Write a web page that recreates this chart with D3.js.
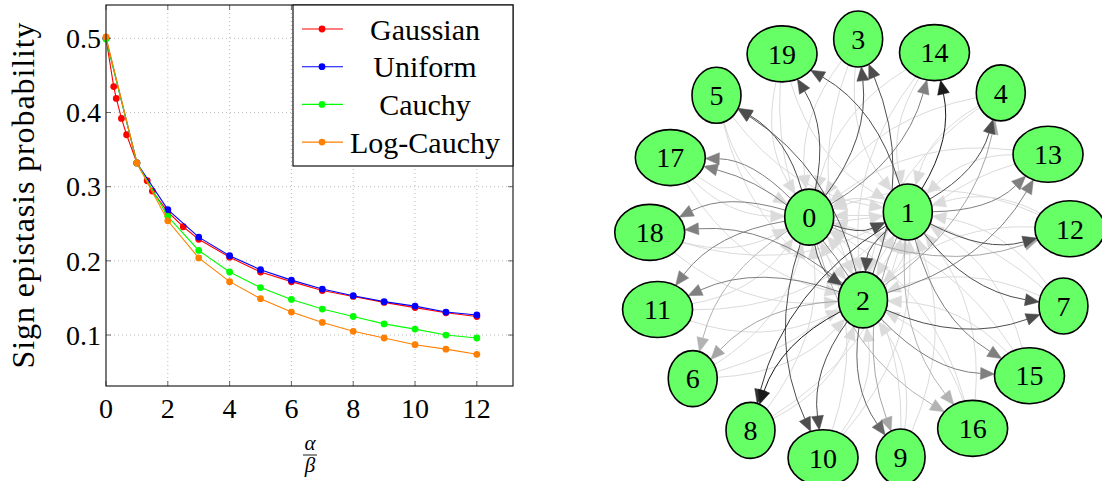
<!DOCTYPE html>
<html>
<head>
<meta charset="utf-8">
<script src="https://d3js.org/d3.v7.min.js"></script>
<style>
body { margin: 0; background: #fff; }
svg text { font-family: "Liberation Serif", serif; fill: #000; }
</style>
</head>
<body>
<div id="chart"></div>
<script>
// ---------- line chart data ----------
var gaussX = [0, 0.25, 0.333, 0.5, 0.667, 1, 1.333, 1.5, 2, 2.5, 3, 4, 5, 6, 7, 8, 9, 10, 11, 12];
var gaussY = [0.500, 0.435, 0.419, 0.392, 0.370, 0.332, 0.308, 0.294, 0.266, 0.246, 0.229, 0.205, 0.185, 0.172, 0.160, 0.152, 0.144, 0.137, 0.130, 0.125];
var stepX = [0, 1, 2, 3, 4, 5, 6, 7, 8, 9, 10, 11, 12];
var uniformY = [0.500, 0.332, 0.269, 0.232, 0.207, 0.188, 0.174, 0.162, 0.153, 0.145, 0.139, 0.131, 0.127];
var cauchyY = [0.499, 0.332, 0.260, 0.214, 0.185, 0.164, 0.148, 0.135, 0.125, 0.115, 0.108, 0.100, 0.096];
var logCauchyY = [0.502, 0.332, 0.254, 0.204, 0.172, 0.149, 0.131, 0.117, 0.105, 0.096, 0.087, 0.081, 0.074];
var seriesNames = ["Gaussian", "Uniform", "Cauchy", "Log-Cauchy"];
var xTicks = [0, 2, 4, 6, 8, 10, 12];
var yTicks = [0.1, 0.2, 0.3, 0.4, 0.5];

// ---------- graph data ----------
var hubNodes = [0, 1, 2];
var ringNodes = [3, 14, 4, 13, 12, 7, 15, 16, 9, 10, 8, 6, 11, 18, 17, 5, 19];
// edges leaving the hubs: [from, to, darkness 0..1]
var hubEdges = [
  [0, 1, 0.7], [1, 0, 0.15], [0, 2, 0.7], [2, 0, 0.15], [1, 2, 0.7], [2, 1, 0.15],
  [0, 19, 0.7], [1, 19, 0.7], [0, 3, 0.7], [2, 3, 0.7], [1, 14, 0.9], [0, 14, 0.5],
  [0, 5, 0.7], [2, 5, 0.65], [1, 4, 0.7], [2, 4, 0.35], [0, 17, 0.5], [2, 17, 0.5],
  [1, 13, 0.5], [2, 13, 0.5], [1, 12, 0.7], [0, 12, 0.35], [2, 18, 0.5], [0, 18, 0.5],
  [0, 11, 0.5], [2, 11, 0.5], [1, 7, 0.7], [2, 7, 0.7], [2, 6, 0.35], [0, 6, 0.3],
  [1, 15, 0.5], [2, 15, 0.5], [2, 8, 0.9], [1, 8, 0.8], [1, 16, 0.3], [0, 16, 0.3],
  [2, 10, 0.7], [0, 10, 0.7], [2, 9, 0.6], [1, 9, 0.35]
];
// every ring node also points back to each hub with a faint edge
var backShade = 0.14;

var svg = d3.select("#chart").append("svg")
  .attr("width", 1102).attr("height", 481);

// ================= line chart =================
var plot = {left: 106, right: 513, top: 5, bottom: 386};
var x = d3.scaleLinear().domain([0, 13.17]).range([plot.left, plot.right]);
var y = d3.scaleLinear().domain([0.0313, 0.5449]).range([plot.bottom, plot.top]);

// dotted grid
svg.append("g").selectAll("line").data(xTicks.slice(1)).enter().append("line")
  .attr("x1", d => x(d)).attr("x2", d => x(d))
  .attr("y1", plot.top).attr("y2", plot.bottom)
  .attr("stroke", "#a8a8a8").attr("stroke-width", 0.8).attr("stroke-dasharray", "1,3");
svg.append("g").selectAll("line").data(yTicks).enter().append("line")
  .attr("x1", plot.left).attr("x2", plot.right)
  .attr("y1", d => y(d)).attr("y2", d => y(d))
  .attr("stroke", "#a8a8a8").attr("stroke-width", 0.8).attr("stroke-dasharray", "1,3");

// inward ticks on all sides
var tk = svg.append("g").attr("stroke", "#444").attr("stroke-width", 0.8);
xTicks.forEach(function(d) {
  tk.append("line").attr("x1", x(d)).attr("x2", x(d)).attr("y1", plot.bottom).attr("y2", plot.bottom - 5);
  tk.append("line").attr("x1", x(d)).attr("x2", x(d)).attr("y1", plot.top).attr("y2", plot.top + 5);
});
yTicks.forEach(function(d) {
  tk.append("line").attr("x1", plot.left).attr("x2", plot.left + 5).attr("y1", y(d)).attr("y2", y(d));
  tk.append("line").attr("x1", plot.right).attr("x2", plot.right - 5).attr("y1", y(d)).attr("y2", y(d));
});

// tick labels
svg.append("g").selectAll("text").data(xTicks).enter().append("text")
  .attr("x", d => x(d)).attr("y", 418)
  .attr("text-anchor", "middle").style("font-size", "28px")
  .text(d => d);
svg.append("g").selectAll("text").data(yTicks).enter().append("text")
  .attr("x", 101).attr("y", d => y(d)).attr("dy", "0.35em")
  .attr("text-anchor", "end").style("font-size", "28px")
  .text(d => d3.format(".1f")(d));

// axis titles
svg.append("text")
  .attr("transform", "translate(34,195) rotate(-90)")
  .attr("text-anchor", "middle").style("font-size", "32px").style("letter-spacing", "0.9px")
  .text("Sign epistasis probability");
svg.append("text").attr("x", 310).attr("y", 450).attr("text-anchor", "middle")
  .style("font-size", "21px").style("font-style", "italic").text("α");
svg.append("line").attr("x1", 303).attr("x2", 317).attr("y1", 455).attr("y2", 455)
  .attr("stroke", "#000").attr("stroke-width", 0.9);
svg.append("text").attr("x", 310).attr("y", 472).attr("text-anchor", "middle")
  .style("font-size", "21px").style("font-style", "italic").text("β");

// series
var colors = ["#ff0000", "#0000ff", "#00ff00", "#ff8000"];
var series = [
  {xs: gaussX, ys: gaussY},
  {xs: stepX, ys: uniformY},
  {xs: stepX, ys: cauchyY},
  {xs: stepX, ys: logCauchyY}
];
var line = d3.line().x(d => x(d[0])).y(d => y(d[1]));
series.forEach(function(s, i) {
  var pts = s.xs.map((v, j) => [v, s.ys[j]]);
  var g = svg.append("g");
  g.append("path").datum(pts).attr("d", line)
    .attr("fill", "none").attr("stroke", colors[i]).attr("stroke-width", 1.1);
  g.selectAll("circle").data(pts).enter().append("circle")
    .attr("cx", d => x(d[0])).attr("cy", d => y(d[1])).attr("r", 3.4)
    .attr("fill", colors[i]);
});

// frame
svg.append("rect")
  .attr("x", plot.left).attr("y", plot.top)
  .attr("width", plot.right - plot.left).attr("height", plot.bottom - plot.top)
  .attr("fill", "none").attr("stroke", "#222").attr("stroke-width", 1.2);

// legend
var leg = svg.append("g");
leg.append("rect").attr("x", 293).attr("y", 5).attr("width", 220).attr("height", 161)
  .attr("fill", "#fff").attr("stroke", "#111").attr("stroke-width", 1.2);
seriesNames.forEach(function(name, i) {
  var ly = 29 + i * 37.7;
  leg.append("line").attr("x1", 302).attr("x2", 343).attr("y1", ly).attr("y2", ly)
    .attr("stroke", colors[i]).attr("stroke-width", 1.1);
  leg.append("circle").attr("cx", 322).attr("cy", ly).attr("r", 3.4).attr("fill", colors[i]);
  leg.append("text").attr("x", 425).attr("y", ly).attr("dy", "0.35em")
    .attr("text-anchor", "middle").style("font-size", "30px").text(name);
});

// ================= graph =================
var ringCenter = [860, 250], ringR = 211;
var hubCenter = [860, 243], hubR = 57;
var pos = {};
var ringAngle = d3.scaleLinear().domain([0, ringNodes.length]).range([-90.5, 269.5]);
ringNodes.forEach(function(n, i) {
  var a = ringAngle(i) * Math.PI / 180;
  pos[n] = [ringCenter[0] + ringR * Math.cos(a), ringCenter[1] + ringR * Math.sin(a)];
});
var hubAngle = d3.scaleLinear().domain([0, hubNodes.length]).range([-153, 207]);
hubNodes.forEach(function(n, i) {
  var a = hubAngle(i) * Math.PI / 180;
  pos[n] = [hubCenter[0] + hubR * Math.cos(a), hubCenter[1] + hubR * Math.sin(a)];
});
function rx(n) { return n >= 10 ? 35 : 24.5; }
var ry = 28;

var edges = hubEdges.slice();
ringNodes.forEach(function(k) {
  hubNodes.forEach(function(h) { edges.push([k, h, backShade]); });
});
edges.sort((a, b) => a[2] - b[2]);

var shade = d3.scaleLinear().domain([0, 1]).range(["#ffffff", "#000000"]);

function boundary(n, dx, dy) {
  var c = pos[n];
  var t = 1 / Math.sqrt((dx / rx(n)) * (dx / rx(n)) + (dy / ry) * (dy / ry));
  return [c[0] + dx * t, c[1] + dy * t];
}

var eg = svg.append("g");
edges.forEach(function(e) {
  var s = pos[e[0]], t = pos[e[1]];
  var dx = t[0] - s[0], dy = t[1] - s[1];
  var curv = 0.2;
  var c = [(s[0] + t[0]) / 2 - dy * curv, (s[1] + t[1]) / 2 + dx * curv];
  var p0 = boundary(e[0], c[0] - s[0], c[1] - s[1]);
  var p2 = boundary(e[1], c[0] - t[0], c[1] - t[1]);
  var ux = p2[0] - c[0], uy = p2[1] - c[1];
  var ul = Math.sqrt(ux * ux + uy * uy);
  ux /= ul; uy /= ul;
  var L = 14, W = 6;
  var base = [p2[0] - ux * L, p2[1] - uy * L];
  var col = shade(e[2]);
  eg.append("path")
    .attr("d", "M" + p0[0] + "," + p0[1] + "Q" + c[0] + "," + c[1] + " " + base[0] + "," + base[1])
    .attr("fill", "none").attr("stroke", col).attr("stroke-width", 1);
  eg.append("path")
    .attr("d", "M" + p2[0] + "," + p2[1] +
      "L" + (base[0] - uy * W) + "," + (base[1] + ux * W) +
      "L" + (base[0] + uy * W) + "," + (base[1] - ux * W) + "Z")
    .attr("fill", col).attr("stroke", col).attr("stroke-width", 0.5);
});

var ng = svg.append("g").selectAll("g").data(hubNodes.concat(ringNodes)).enter().append("g")
  .attr("transform", d => "translate(" + pos[d][0] + "," + pos[d][1] + ")");
ng.append("ellipse").attr("rx", d => rx(d)).attr("ry", ry)
  .attr("fill", "#66ff66").attr("stroke", "#000").attr("stroke-width", 1.6);
ng.append("text").attr("text-anchor", "middle").attr("dy", "0.35em")
  .style("font-size", "28px").text(d => d);
</script>
</body>
</html>
